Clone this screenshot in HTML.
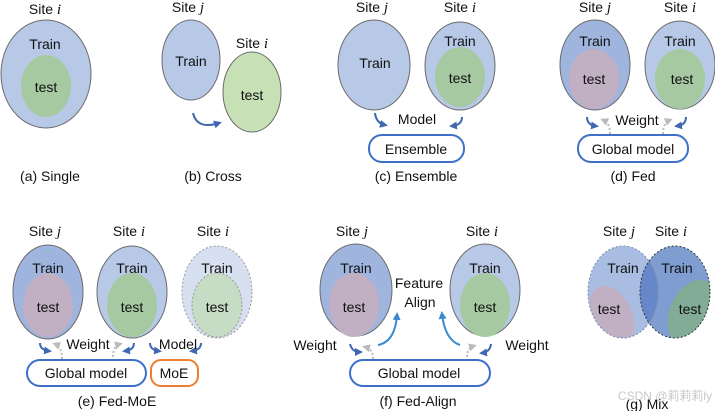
<!DOCTYPE html>
<html><head><meta charset="utf-8"><style>
html,body{margin:0;padding:0;background:#fff;}
svg{display:block;}
text{font-family:"Liberation Sans","Noto Sans CJK SC",sans-serif;font-size:14px;fill:#111;text-anchor:middle;}
.it{font-family:"Liberation Serif",serif;font-style:italic;font-size:15px;}
</style></head><body>
<svg width="715" height="411" viewBox="0 0 715 411" xmlns="http://www.w3.org/2000/svg">
<defs>
<marker id="ab" markerUnits="userSpaceOnUse" markerWidth="8" markerHeight="8" refX="5" refY="4" orient="auto"><path d="M0,0 L8,4 L0,8 Z" fill="#3f68b0"/></marker>
<marker id="al" markerUnits="userSpaceOnUse" markerWidth="8" markerHeight="8" refX="5" refY="4" orient="auto"><path d="M0,0 L8,4 L0,8 Z" fill="#3b8ad0"/></marker>
<marker id="ag" markerUnits="userSpaceOnUse" markerWidth="8" markerHeight="8" refX="5" refY="4" orient="auto"><path d="M0,0 L8,4 L0,8 Z" fill="#bbb"/></marker>
<clipPath id="cl"><ellipse cx="623" cy="292" rx="35" ry="46"/></clipPath>
<clipPath id="cr"><ellipse cx="675" cy="292" rx="35" ry="46"/></clipPath>
</defs>
<g stroke="#6b6b6b" stroke-width="1">
<ellipse cx="46" cy="74" rx="45" ry="54" fill="#b7c9e6"/>
<ellipse cx="46" cy="86" rx="25" ry="31" fill="#a6c9a2" stroke="none"/>
<ellipse cx="191" cy="60" rx="29" ry="40" fill="#b7c9e6"/>
<ellipse cx="252" cy="92" rx="29" ry="40" fill="#c7e0b6"/>
<ellipse cx="374" cy="65" rx="36" ry="45" fill="#b7c9e6"/>
<ellipse cx="460" cy="66" rx="35" ry="44" fill="#b7c9e6"/>
<ellipse cx="460" cy="77" rx="25" ry="30" fill="#a6c9a2" stroke="none"/>
<ellipse cx="595" cy="65" rx="35" ry="45" fill="#9fb5de"/>
<ellipse cx="594" cy="79" rx="25" ry="30" fill="#c1afc4" stroke="none"/>
<ellipse cx="680" cy="65" rx="35" ry="44" fill="#b7c9e6"/>
<ellipse cx="680" cy="79" rx="25" ry="30" fill="#a6c9a2" stroke="none"/>
<ellipse cx="48" cy="292" rx="35" ry="47" fill="#9fb5de"/>
<ellipse cx="48" cy="305" rx="25" ry="32" fill="#c1afc4" stroke="none"/>
<ellipse cx="132" cy="292" rx="35" ry="46" fill="#b7c9e6"/>
<ellipse cx="132" cy="305" rx="25" ry="32" fill="#a6c9a2" stroke="none"/>
<ellipse cx="217" cy="292" rx="35" ry="46" fill="#d6e0f0" stroke="#999" stroke-dasharray="2,2"/>
<ellipse cx="217" cy="305" rx="25" ry="32" fill="#c6dcc4" stroke="#999" stroke-dasharray="2,2"/>
<ellipse cx="356" cy="290" rx="36" ry="46" fill="#9fb5de"/>
<ellipse cx="354" cy="305" rx="25" ry="32" fill="#c1afc4" stroke="none"/>
<ellipse cx="485" cy="290" rx="35" ry="46" fill="#b7c9e6"/>
<ellipse cx="485" cy="305" rx="25" ry="32" fill="#a6c9a2" stroke="none"/>
</g>
<ellipse cx="623" cy="292" rx="35" ry="46" fill="#a9bde3"/>
<ellipse cx="675" cy="292" rx="35" ry="46" fill="#7f9dd0"/>
<g clip-path="url(#cl)"><ellipse cx="612" cy="316" rx="20" ry="32" transform="rotate(-25 612 316)" fill="#c1afc4"/></g>
<g clip-path="url(#cr)"><ellipse cx="692" cy="312" rx="22" ry="34" transform="rotate(25 692 312)" fill="#82ac95"/></g>
<g clip-path="url(#cl)"><ellipse cx="675" cy="292" rx="35" ry="46" fill="#6688c8"/></g>
<ellipse cx="623" cy="292" rx="35" ry="46" fill="none" stroke="#7a8aa8" stroke-dasharray="2,2"/>
<ellipse cx="675" cy="292" rx="35" ry="46" fill="none" stroke="#333" stroke-dasharray="2,2"/>

<g fill="#fff" stroke="#3f70c8" stroke-width="2">
<rect x="369" y="135" width="95" height="27" rx="13"/>
<rect x="578" y="135" width="110" height="27" rx="13"/>
<rect x="27" y="360" width="119" height="26" rx="13"/>
<rect x="350" y="360" width="140" height="26" rx="13"/>
<rect x="151" y="360" width="47" height="26" rx="10" stroke="#ed7d31"/>
</g>

<g fill="none" stroke-width="2">
<path d="M193,113 Q197,130 219,123" stroke="#3f68b0" marker-end="url(#ab)"/>
<path d="M375,113 Q376,123 385,125" stroke="#3f68b0" marker-end="url(#ab)"/>
<path d="M462,117 Q462,125 452,126" stroke="#3f68b0" marker-end="url(#ab)"/>
<path d="M587,117 Q587,125 596,126" stroke="#3f68b0" marker-end="url(#ab)"/>
<path d="M686,117 Q686,125 677,126" stroke="#3f68b0" marker-end="url(#ab)"/>
<path d="M40,343 Q40,350 49,351" stroke="#3f68b0" marker-end="url(#ab)"/>
<path d="M134,343 Q134,350 125,351" stroke="#3f68b0" marker-end="url(#ab)"/>
<path d="M150,343 Q150,350 159,351" stroke="#3f68b0" marker-end="url(#ab)"/>
<path d="M201,343 Q201,350 192,351" stroke="#3f68b0" marker-end="url(#ab)"/>
<path d="M350,344 Q352,352 360,352" stroke="#3f68b0" marker-end="url(#ab)"/>
<path d="M491,344 Q490,352 482,353" stroke="#3f68b0" marker-end="url(#ab)"/>
<path d="M378,345 Q395,342 397,315" stroke="#3b8ad0" marker-end="url(#al)"/>
<path d="M460,345 Q445,340 442,314" stroke="#3b8ad0" marker-end="url(#al)"/>
</g>
<g fill="none" stroke="#bbb" stroke-width="2" stroke-dasharray="2,2">
<path d="M610,134 Q610,123 603,120" marker-end="url(#ag)"/>
<path d="M663,134 Q663,123 670,120" marker-end="url(#ag)"/>
<path d="M62,359 Q62,347 55,344" marker-end="url(#ag)"/>
<path d="M113,357 Q113,346 120,344" marker-end="url(#ag)"/>
<path d="M373,359 Q373,349 365,347" marker-end="url(#ag)"/>
<path d="M467,357 Q467,348 474,346" marker-end="url(#ag)"/>
</g>

<text x="45" y="14">Site <tspan class="it">i</tspan></text>
<text x="45" y="49">Train</text><text x="46" y="92">test</text>
<text x="50" y="181">(a) Single</text>
<text x="188" y="12">Site <tspan class="it">j</tspan></text>
<text x="191" y="66">Train</text>
<text x="252" y="48">Site <tspan class="it">i</tspan></text>
<text x="252" y="100">test</text>
<text x="213" y="181">(b) Cross</text>
<text x="372" y="12">Site <tspan class="it">j</tspan></text>
<text x="375" y="68">Train</text>
<text x="460" y="12">Site <tspan class="it">i</tspan></text>
<text x="460" y="46">Train</text><text x="460" y="83">test</text>
<text x="417" y="124">Model</text>
<text x="416" y="154">Ensemble</text>
<text x="416" y="181">(c) Ensemble</text>
<text x="595" y="12">Site <tspan class="it">j</tspan></text>
<text x="595" y="46">Train</text><text x="594" y="84">test</text>
<text x="680" y="12">Site <tspan class="it">i</tspan></text>
<text x="680" y="46">Train</text><text x="682" y="84">test</text>
<text x="637" y="125">Weight</text>
<text x="633" y="154">Global model</text>
<text x="633" y="181">(d) Fed</text>

<text x="45" y="236">Site <tspan class="it">j</tspan></text>
<text x="129" y="236">Site <tspan class="it">i</tspan></text>
<text x="213" y="236">Site <tspan class="it">i</tspan></text>
<text x="48" y="273">Train</text><text x="48" y="312">test</text>
<text x="132" y="273">Train</text><text x="132" y="312">test</text>
<text x="217" y="273">Train</text><text x="217" y="312">test</text>
<text x="88" y="349">Weight</text>
<text x="178" y="349">Model</text>
<text x="86" y="378">Global model</text>
<text x="174" y="378">MoE</text>
<text x="117" y="406">(e) Fed-MoE</text>

<text x="352" y="236">Site <tspan class="it">j</tspan></text>
<text x="482" y="236">Site <tspan class="it">i</tspan></text>
<text x="356" y="273">Train</text><text x="354" y="312">test</text>
<text x="485" y="273">Train</text><text x="485" y="312">test</text>
<text x="419" y="288">Feature</text><text x="420" y="307">Align</text>
<text x="315" y="350">Weight</text>
<text x="527" y="350">Weight</text>
<text x="419" y="378">Global model</text>
<text x="418" y="406">(f) Fed-Align</text>

<text x="619" y="236">Site <tspan class="it">j</tspan></text>
<text x="671" y="236">Site <tspan class="it">i</tspan></text>
<text x="623" y="273">Train</text><text x="677" y="273">Train</text>
<text x="609" y="314">test</text><text x="690" y="314">test</text>
<text x="647" y="409">(g) Mix</text>
<text x="665" y="400" style="fill:#c8c8c8;font-size:12px">CSDN @莉莉莉ly</text>
</svg>
</body></html>
